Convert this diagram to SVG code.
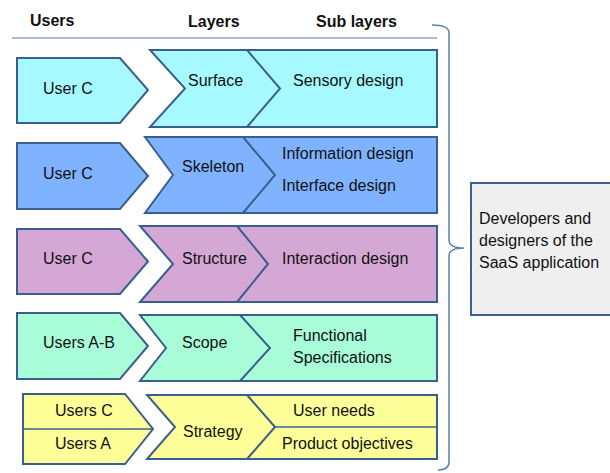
<svg xmlns="http://www.w3.org/2000/svg" width="610" height="473" viewBox="0 0 610 473">
<style>
.s{stroke:#3b5f8c;stroke-width:2;stroke-linejoin:miter}
.t{font-family:"Liberation Sans",Arial,sans-serif;font-size:16px;fill:#111}
.h{font-family:"Liberation Sans",Arial,sans-serif;font-size:16px;font-weight:bold;fill:#111}
.ln{fill:none;stroke:#3b5f8c;stroke-width:2}
</style>
<rect width="610" height="473" fill="#fff"/>
<g id="header">
<text class="h" x="30" y="26">Users</text>
<text class="h" x="188" y="27">Layers</text>
<text class="h" x="316" y="27">Sub layers</text>
<line x1="12" y1="38" x2="437" y2="38" stroke="#8ea7c2" stroke-width="1.5"/>
</g>
<g id="connectors">
<path d="M432,25 Q449,25 449,33 L449,240 Q449,248 464,248 Q449,248 449,256 L449,462 Q449,470 438,470" fill="none" stroke="#5b80ab" stroke-width="1.5"/>
</g>
<g id="row1">
<polygon class="s" fill="#a6faff" points="17,58 120,58 148,90 120,123 17,123"/>
<text class="t" x="43" y="94">User C</text>
<polygon class="s" fill="#a6faff" points="150,50 437,50 437,127 150,127 185,88.5"/>
<polyline class="ln" points="247,50 280,88.5 247,127"/>
<text class="t" x="188" y="86">Surface</text>
<text class="t" x="293" y="86">Sensory design</text>
</g>
<g id="row2">
<polygon class="s" fill="#80b3ff" points="17,143 120,143 148,176 120,209 17,209"/>
<text class="t" x="43" y="179">User C</text>
<polygon class="s" fill="#80b3ff" points="145,137 437,137 437,213 145,213 173,175"/>
<polyline class="ln" points="243,137 275,175 243,213"/>
<text class="t" x="182" y="172">Skeleton</text>
<text class="t" x="282" y="159">Information design</text>
<text class="t" x="282" y="191">Interface design</text>
</g>
<g id="row3">
<polygon class="s" fill="#d5a7d5" points="17,229 120,229 148,261.5 120,294 17,294"/>
<text class="t" x="43" y="264">User C</text>
<polygon class="s" fill="#d5a7d5" points="140,226 437,226 437,302 140,302 173,264"/>
<polyline class="ln" points="237,226 268,264 237,302"/>
<text class="t" x="182" y="264">Structure</text>
<text class="t" x="282" y="264">Interaction design</text>
</g>
<g id="row4">
<polygon class="s" fill="#a8fcd8" points="17,313 120,313 148,346 120,379 17,379"/>
<text class="t" x="43" y="348">Users A-B</text>
<polygon class="s" fill="#a8fcd8" points="140,315 437,315 437,381 140,381 166,348"/>
<polyline class="ln" points="240,315 270,348 240,381"/>
<text class="t" x="182" y="348">Scope</text>
<text class="t" x="293" y="341">Functional</text>
<text class="t" x="293" y="363">Specifications</text>
</g>
<g id="row5">
<polygon class="s" fill="#ffff99" points="23,394 125,394 153,429 125,464 23,464"/>
<line x1="23" y1="429" x2="153" y2="429" stroke="#3b5f8c" stroke-width="1.5"/>
<text class="t" x="55" y="416">Users C</text>
<text class="t" x="55" y="449">Users A</text>
<polygon class="s" fill="#ffff99" points="147,395 437,395 437,459 147,459 175,427"/>
<polyline class="ln" points="247,395 275,427 247,459"/>
<line x1="275" y1="427" x2="437" y2="427" stroke="#3b5f8c" stroke-width="1.5"/>
<text class="t" x="183" y="437">Strategy</text>
<text class="t" x="293" y="416">User needs</text>
<text class="t" x="282" y="449">Product objectives</text>
</g>
<g id="devbox">
<rect x="471" y="183" width="145" height="132" fill="#efefef" stroke="#3b5f8c" stroke-width="2"/>
<text class="t" x="479" y="224">Developers and</text>
<text class="t" x="479" y="246">designers of the</text>
<text class="t" x="479" y="268">SaaS application</text>
</g>
</svg>
